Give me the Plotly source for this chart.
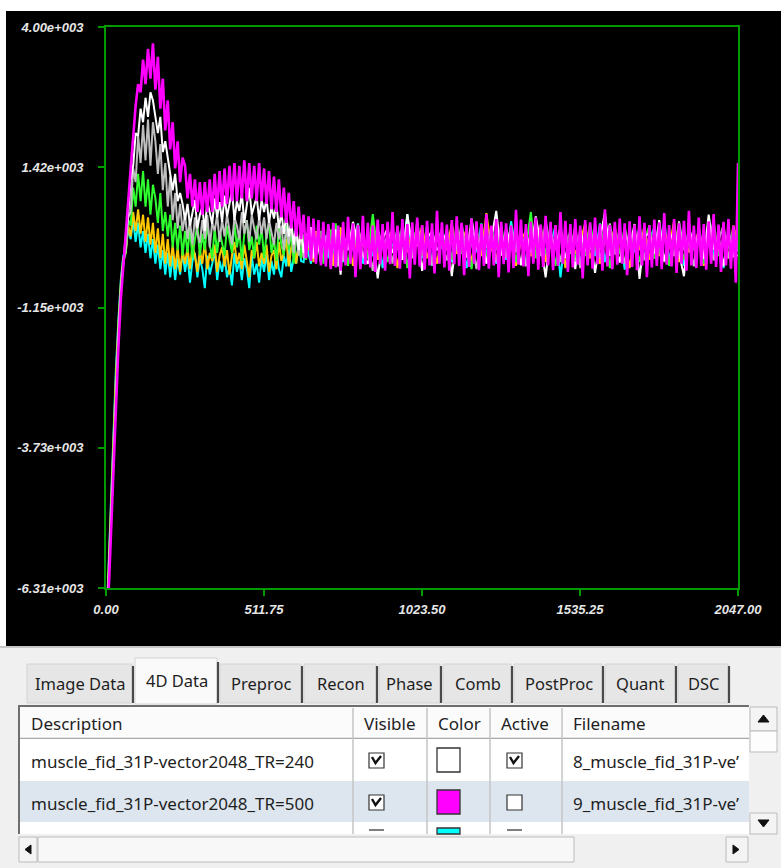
import plotly.graph_objects as go

W, H = 781, 868

# ---------------- data ----------------
x_s8 = list(range(0, 2041, 8)) + [2047]                                   # magenta samples
x_mix = list(range(0, 768, 8)) + list(range(768, 2033, 16)) + [2047]     # other series samples

magenta = [
    -7600, -6400, -5200, -4000, -2900, -1900, -1000, -350, 250, 800, 1400, 2000, 2550, 2950, 2800, 3400,
    2950, 3600, 3050, 3700, 2850, 3450, 2500, 3050, 2100, 2650, 1750, 2250, 1400, 1900, 1150, 1600,
    1450, 850, 1300, 700, 1200, 600, 1150, 550, 1150, 600, 1200, 600, 1300, 650, 1350, 700,
    1400, 750, 1450, 800, 1500, 800, 1450, 850, 1550, 800, 1500, 850, 1450, 800, 1500, 800,
    1400, 750, 1350, 650, 1250, 600, 1200, 500, 1050, 400, 950, 300, 800, 150, 700, 100,
    550, -250, 520, -300, 480, -350, 450, -380, 420, -400, 380, -450, 400, -420, 350, -480,
    420, -380, 510, -350, 390, -600, 360, -450, 530, -370, 400, -420, 350, -500, 460, -360,
    380, -480, 420, -360, 600, -390, 350, -440, 470, -350, 380, -620, 410, -370, 500, -400,
    360, -460, 440, -380, 390, -530, 620, -350, 410, -420, 370, -480, 450, -360, 520, -390,
    400, -560, 360, -410, 480, -350, 430, -470, 380, -390, 560, -440, 350, -380, 470, -600,
    420, -360, 390, -510, 350, -430, 640, -370, 460, -400, 380, -580, 420, -350, 500, -460,
    370, -410, 530, -380, 420, -470, 360, -390, 600, -350, 440, -500, 380, -420, 470, -370,
    350, -620, 450, -380, 410, -440, 500, -360, 380, -480, 650, -400, 360, -450, 420, -370,
    480, -350, 390, -560, 430, -410, 370, -470, 520, -380, 400, -600, 360, -420, 460, -390,
    410, -450, 580, -370, 360, -400, 470, -520, 390, -350, 440, -480, 620, -380, 350, -430,
    500, -390, 380, -460, 430, -350, 560, -410, 370, -500, 420, -380, 470, -440, 350, -700,
    1500,
]

white = [
    -7400, -6200, -5000, -3800, -2700, -1700, -850, -300, 150, 550, 1200, 1450, 2050, 2000, 2500, 2250,
    2700, 2350, 2800, 2650, 2300, 2050, 2350, 1700, 1900, 1600, 1250, 1000, 1300, 800, 950, 750,
    450, 750, 350, 600, 820, 300, 550, 700, 250, 800, 600, 380, 850, 500, 780, 420,
    900, 520, 750, 1000, 450, 800, 620, 950, 400, 780, 1050, 550, 700, 880, 450, 820,
    600, 850, 400, 700, 480, 750, 300, 600, 200, 550, 150, 420, 0, 350, -100, 280,
    -150, 200, 50, 320, -250, 100, -50, -300, 250, 0, 150, -420, 80, 280, -120, -550,
    180, -100, 420, 20, -200, -350, 150, -620, 100, 300, -150, 60, -280, 560, -50, 200,
    -480, 120, 250, -100, 30, 220, -580, 150, 60, -240, 480, -90, 180, -350, 90, 620,
    -200, 300, -60, 150, -380, 240, -140, 520, 20, -600, 210, -80, 330, -250, 50, -450,
    280, -120, 160, -520, 90, 600, -200, 30, -330, 250, -60, 380, -630, 140, 220, -170,
    450, -300, 60, 240, -150, -580, 320, -40, 180, -260, 550, -90, 140, -400, 260, -220,
    -200,
]

gray = [
    -7350, -6150, -4950, -3750, -2650, -1650, -820, -320, -100, 500, 600, 1400, 1150, 2000, 1500, 2200,
    1550, 2300, 1450, 2250, 1900, 1300, 1850, 1000, 1500, 700, 1250, 450, 950, 300, 750, 250,
    550, 100, 450, 0, 500, 200, 30, 450, 100, 550, -50, 400, 250, 550, 50, 450,
    150, 550, 250, 0, 500, 350, 100, 600, 200, 450, 50, 550, 300, 100, 500, 200,
    500, 100, 450, 250, 0, 400, 100, 350, -100, 300, 0, 400, -150, 250, -200, 300,
    -250, 150, -60, 280, -180, 40, 230, -320, 110, -100, 350, -200, 0, 200, -400, 150,
    -300, 250, -100, 380, -220, 60, -480, 280, -30, 170, -350, 320, -140, 100, -250, 430,
    -180, 140, -380, 280, 30, -290, 210, -110, 390, -200, 70, -450, 240, -60, 320, -330,
    100, -240, 360, -140, 210, -400, 40, 280, -210, 440, -70, 140, -320, 250, -170, 350,
    -430, 180, -100, 320, -250, 70, 390, -180, 210, -350, 100, -40, 290, -290, 170, -140,
    250, -320, 140, -210, 430, -100, 40, -400, 320, -170, 210, -290, 70, 360, -250, 140,
    0,
]

green = [
    -7300, -6100, -4850, -3650, -2550, -1600, -800, -320, -150, 450, 350, 1050, 700, 1300, 800, 1350,
    700, 1200, 550, 1100, 850, 400, 950, 250, 600, 150, 550, -50, 400, -100, 350, -200,
    250, -150, 300, -250, 100, 350, -200, 200, -100, 400, 0, -250, 300, -150, 250, 50,
    -200, 350, 100, -150, 400, -50, 250, -300, 200, 450, -100, 150, -250, 350, 0, 300,
    -250, 200, 400, -150, 100, -300, 300, 0, -200, 350, -100, 250, -350, 150, 50, -250,
    200, -280, 100, -60, 320, -210, 30, 250, -350, 140, -100, 280, -170, 390, -30, -280,
    170, -390, 280, -70, 100, -250, 560, -140, 40, -320, 210, -100, 350, -430, 140, 250,
    -210, 70, -360, 320, -30, 170, -280, 390, -170, 100, -450, 250, 0, -250, 280, -100,
    350, -170, 140, -320, 210, -70, 600, -250, 70, -140, 280, -390, 170, -30, 250, -280,
    100, -210, 390, -100, 0, 280, -430, 140, -170, 320, -70, 210, -320, 70, 350, -250,
    -140, 250, -390, 170, 40, -280, 320, -100, 210, -350, 100, 430, -210, 140, -70, 280,
    -100,
]

yellow = [
    -7250, -6000, -4750, -3550, -2450, -1500, -720, -250, -150, 350, 150, 600, 250, 650, 200, 550,
    50, 500, 0, 400, -150, 300, -250, 200, -350, 100, -400, 0, -450, -50, -500, -100,
    -350, -50, -450, 0, -200, -500, -100, -350, 50, -450, -150, -300, 0, -500, -200, -50,
    -400, -100, -550, -200, 50, -350, -150, -450, 0, -300, -600, -100, -250, 50, -400, -150,
    -350, 0, -500, -200, -100, -450, 50, -300, -150, 100, -400, -50, 150, -350, 0, 200,
    -210, 170, -100, 70, -320, 250, -30, -170, 280, -280, 100, 0, -390, 210, -70, 320,
    -250, 140, -390, 280, 0, -170, 430, -280, 100, -70, 320, -430, 170, -140, 250, -30,
    350, -250, 70, -350, 210, -100, 390, -170, 40, 280, -320, 140, -210, 580, -70, -280,
    170, -140, 320, -390, 70, 250, -210, 0, 350, -320, 140, -70, 280, -430, 210, -170,
    40, 390, -250, 100, -350, 210, -30, 320, -170, 70, -430, 250, -100, 350, -280, 140,
    -210, 280, -70, 430, -320, 170, -140, 0, 250, -390, 100, 320, -170, 70, -250, 350,
    0,
]

cyan = [
    -7200, -5900, -4600, -3400, -2300, -1400, -650, -200, -100, 300, 100, 450, 50, 400, -50, 250,
    -150, 200, -250, 100, -350, 0, -450, -100, -550, -150, -600, -200, -650, -250, -550, -150,
    -500, -200, -700, -300, -150, -600, -250, -450, -800, -200, -550, -350, -100, -650, -300, -500,
    -200, -600, -400, -750, -150, -500, -300, -650, -250, -450, -800, -200, -550, -350, -700, -250,
    -500, -150, -650, -300, -550, -100, -450, -600, -200, -400, 0, -500, -250, -350, 50, -300,
    -320, 100, -170, -350, 140, -100, 250, -320, 0, 170, -250, 70, -390, 210, -140, 280,
    -320, 210, -100, 390, -350, 70, -210, 320, -430, 140, -30, 250, -280, 560, -170, 100,
    -250, 350, -390, 170, -70, 280, -320, 30, 210, -430, 100, -140, 390, -210, 250, -350,
    140, -280, 430, -100, 250, -390, 70, -170, 320, -250, 0, 350, -600, 170, -70, 280,
    -350, 100, 250, -210, 390, -320, 140, -70, 280, -460, 210, -140, 350, -250, 70, 320,
    -170, 430, -280, 100, 210, -390, 320, -100, 170, -320, 390, -210, 70, -430, 250, -140,
    -100,
]

y_tickvals = [-6310, -3732.5, -1155, 1422.5, 4000]
y_ticktext = ["-6.31e+003", "-3.73e+003", "-1.15e+003", "1.42e+003", "4.00e+003"]
x_tickvals = [0, 511.75, 1023.5, 1535.25, 2047]
x_ticktext = ["0.00", "511.75", "1023.50", "1535.25", "2047.00"]

tabs = ["Image Data", "4D Data", "Preproc", "Recon", "Phase", "Comb", "PostProc", "Quant", "DSC"]
columns = ["Description", "Visible", "Color", "Active", "Filename"]
rows_desc = ["muscle_fid_31P-vector2048_TR=240", "muscle_fid_31P-vector2048_TR=500"]
rows_file = ["8_muscle_fid_31P-ve\u2019", "9_muscle_fid_31P-ve\u2019"]
rows_color = ["#FFFFFF", "#FF00FF"]
rows_active = [True, False]

assert len(magenta) == len(x_s8), ("magenta", len(magenta), len(x_s8))
for nm, s in (("white", white), ("gray", gray), ("green", green), ("yellow", yellow), ("cyan", cyan)):
    assert len(s) == len(x_mix), (nm, len(s), len(x_mix))

# ---------------- figure ----------------
fig = go.Figure()
series = [("cyan", cyan, x_mix, "#00FFFF", 2.0), ("yellow", yellow, x_mix, "#FFC800", 2.0),
          ("green", green, x_mix, "#2EFF2E", 2.0), ("gray", gray, x_mix, "#BEBEBE", 2.0),
          ("white", white, x_mix, "#FFFFFF", 2.0), ("magenta", magenta, x_s8, "#FF00FF", 2.6)]
for name, ys, xs, col, lw in series:
    fig.add_trace(go.Scatter(x=xs, y=ys, mode="lines", name=name,
                             line=dict(color=col, width=lw), showlegend=False,
                             hoverinfo="skip"))

def px(x):
    return x / W

def py(y):
    return 1 - y / H

shapes = []
annotations = []

def rect(x0, y0, x1, y1, fill=None, line=None, lw=1, layer="above"):
    shapes.append(dict(type="rect", xref="paper", yref="paper",
                       x0=px(x0), x1=px(x1), y0=py(y1), y1=py(y0),
                       fillcolor=fill if fill else "rgba(0,0,0,0)",
                       line=dict(color=line if line else "rgba(0,0,0,0)", width=lw if line else 0),
                       layer=layer))

def hline(x0, x1, y, color, lw=1):
    shapes.append(dict(type="line", xref="paper", yref="paper", x0=px(x0), x1=px(x1),
                       y0=py(y), y1=py(y), line=dict(color=color, width=lw)))

def vline(x, y0, y1, color, lw=1):
    shapes.append(dict(type="line", xref="paper", yref="paper", x0=px(x), x1=px(x),
                       y0=py(y0), y1=py(y1), line=dict(color=color, width=lw)))

def path(pts, color, lw=1, fill=None):
    d = "M " + " L ".join(f"{px(a):.5f},{py(b):.5f}" for a, b in pts)
    if fill:
        d += " Z"
    shapes.append(dict(type="path", xref="paper", yref="paper", path=d,
                       line=dict(color=color, width=lw),
                       fillcolor=fill if fill else "rgba(0,0,0,0)"))

def text(x, y, s, size=16.5, color="#1E1E1E", anchor="left", family="Noto Sans"):
    annotations.append(dict(x=px(x), y=py(y), xref="paper", yref="paper", text=s,
                            showarrow=False, xanchor=anchor, yanchor="middle",
                            font=dict(family=family, size=size, color=color)))

# black chart window
rect(6, 11, 781, 646, fill="#000000", layer="below")

# lower UI panel
rect(0, 646, 781, 868, fill="#F0F0F0")
hline(0, 781, 647, "#C8C8C8", 2)

# tabs
tab_edges = [25, 133, 218, 302, 377, 441, 512, 603, 676, 729]
for i, t in enumerate(tabs):
    a, b = tab_edges[i], tab_edges[i + 1]
    if i == 1:
        rect(a + 2, 658, b - 1, 704, fill="#FAFAFA", line="#D4D4D4")
        yc = 680
    else:
        rect(a + 2, 664, b - 1, 703, fill="#E6E6E6", line="#D4D4D4")
        yc = 683
    vline(b, 662 if i == 1 else 666, 703, "#4A4A4A", 2.2)
    text((a + b) / 2 + 1, yc, t, anchor="center")

# table frame
rect(18, 705, 749, 834, fill="#FFFFFF")
vline(19, 705, 834, "#6E6E6E", 2)
hline(18, 749, 706, "#6E6E6E", 2)
# header
rect(20, 707, 749, 738, fill="#FBFBFB")
hline(20, 749, 738.5, "#A8A8A8", 1.5)
col_edges = [20, 353, 427, 490, 562, 749]
for c in col_edges[1:-1]:
    vline(c, 708, 834, "#C4C4C4", 1.5)
for i, c in enumerate(columns):
    text(col_edges[i] + 9, 723, c, size=17)

# rows
row_tops = [739, 781]
row_bg = ["#FFFFFF", "#DDE6EF"]
for r in range(2):
    t0 = row_tops[r]
    rect(20, t0, 749, t0 + 41, fill=row_bg[r])
    for c in col_edges[1:-1]:
        vline(c, t0, t0 + 41, "#C4C4C4", 1.5)
    yc = t0 + 22
    text(29, yc, rows_desc[r], size=17)
    text(571, yc, rows_file[r], size=17)
    rect(369, yc - 8, 384, yc + 7, fill="#FFFFFF", line="#333333", lw=1.2)
    path([(372, yc - 4), (375.5, yc + 2), (381, yc - 5)], "#111111", 2.4)
    rect(437, yc - 13, 460, yc + 11, fill=rows_color[r], line="#333333", lw=1.3)
    rect(507, yc - 8, 522, yc + 7, fill="#FFFFFF", line="#333333", lw=1.2)
    if rows_active[r]:
        path([(510, yc - 4), (513.5, yc + 2), (519, yc - 5)], "#111111", 2.4)
# partial third row
rect(20, 822, 749, 834, fill="#FFFFFF")
for c in col_edges[1:-1]:
    vline(c, 822, 834, "#C4C4C4", 1.5)
rect(437, 828, 460, 834, fill="#00FFFF", line="#333333", lw=1.3)
hline(369, 384, 830, "#555555", 1.5)
hline(507, 522, 830, "#555555", 1.5)

# vertical scrollbar
rect(749, 705, 778, 834, fill="#F0F0F0")
rect(750, 707, 777, 731, fill="#F4F4F4", line="#BBBBBB")
path([(758, 722), (763.5, 715), (769, 722)], "#111111", 1, fill="#111111")
rect(750, 731, 777, 752, fill="#FDFDFD", line="#BBBBBB")
rect(750, 813, 777, 834, fill="#F4F4F4", line="#BBBBBB")
path([(758, 820), (763.5, 827), (769, 820)], "#111111", 1, fill="#111111")

# horizontal scrollbar
rect(18, 836, 749, 863, fill="#F0F0F0")
rect(19, 837, 37, 862, fill="#F4F4F4", line="#BBBBBB")
path([(31, 845), (25, 849.5), (31, 854)], "#111111", 1, fill="#111111")
rect(38, 837, 574, 862, fill="#F8F8F8", line="#BBBBBB")
rect(726, 837, 748, 862, fill="#F4F4F4", line="#BBBBBB")
path([(733, 845), (739, 849.5), (733, 854)], "#111111", 1, fill="#111111")

green_axis = "#009A00"
tickfont = dict(family="Liberation Sans", size=13, color="#E6E6E6", style="italic", weight="bold")

fig.update_layout(
    width=W, height=H,
    margin=dict(l=0, r=0, t=0, b=0, autoexpand=False),
    paper_bgcolor="#FFFFFF",
    plot_bgcolor="#000000",
    showlegend=False,
    shapes=shapes,
    annotations=annotations,
    xaxis=dict(domain=[106 / W, 738 / W], range=[0, 2047], showgrid=False, zeroline=False,
               automargin=False,
               showline=True, linecolor=green_axis, linewidth=2, mirror=True,
               ticks="outside", ticklen=6, tickwidth=2, tickcolor=green_axis,
               tickvals=x_tickvals, ticktext=x_ticktext, tickfont=tickfont,
               ticklabelstandoff=2, fixedrange=True),
    yaxis=dict(domain=[1 - 588 / H, 1 - 27 / H], range=[-6310, 4000], showgrid=False,
               zeroline=False, automargin=False,
               showline=True, linecolor=green_axis, linewidth=2, mirror=True,
               ticks="outside", ticklen=6, tickwidth=2, tickcolor=green_axis,
               tickvals=y_tickvals, ticktext=y_ticktext, tickfont=tickfont,
               ticklabelstandoff=12, fixedrange=True),
)

fig.write_html("out.html")
